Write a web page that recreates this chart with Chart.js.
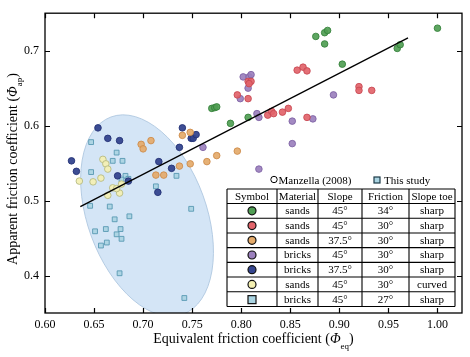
<!DOCTYPE html>
<html><head><meta charset="utf-8">
<script src="https://cdn.jsdelivr.net/npm/chart.js@4.4.0/dist/chart.umd.min.js"></script>
<style>html,body{margin:0;padding:0;background:#fff;}canvas{display:block;}</style>
</head><body>
<canvas id="c" width="470" height="357"></canvas>
<script>
const FONT = '"Liberation Serif", "Times New Roman", serif';

const xTickValues = [0.60, 0.65, 0.70, 0.75, 0.80, 0.85, 0.90, 0.95, 1.00];
const xTickLabels = ['0.60', '0.65', '0.70', '0.75', '0.80', '0.85', '0.90', '0.95', '1.00'];
const yTickValues = [0.4, 0.5, 0.6, 0.7];
const yTickLabels = ['0.4', '0.5', '0.6', '0.7'];

// sands, 45°, 34°, sharp
const greenX = [0.770,0.773,0.775,0.789,0.807,0.876,0.885,0.888,0.885,0.903,0.959,0.962,1.000];
const greenY = [0.623,0.624,0.625,0.603,0.611,0.719,0.724,0.727,0.709,0.682,0.703,0.708,0.730];
// sands, 45°, 30°, sharp
const redX = [0.796,0.807,0.810,0.808,0.807,0.857,0.863,0.867,0.827,0.831,0.833,0.842,0.848,0.867,0.920,0.920,0.933];
const redY = [0.641,0.659,0.659,0.656,0.636,0.674,0.678,0.673,0.614,0.619,0.616,0.618,0.623,0.611,0.652,0.647,0.647];
// sands, 37.5°, 30°, sharp
const orangeX = [0.698,0.700,0.708,0.713,0.721,0.737,0.748,0.765,0.775,0.796,0.740,0.748];
const orangeY = [0.575,0.569,0.580,0.534,0.534,0.546,0.549,0.552,0.560,0.566,0.587,0.591];
// bricks, 45°, 30°, sharp
const purpleX = [0.799,0.802,0.808,0.810,0.807,0.816,0.818,0.852,0.852,0.818,0.761,0.873,0.894];
const purpleY = [0.636,0.665,0.665,0.668,0.650,0.616,0.611,0.606,0.576,0.542,0.571,0.609,0.641];
// bricks, 37.5°, 30°, sharp
const blueX = [0.654,0.664,0.676,0.627,0.632,0.674,0.685,0.715,0.716,0.729,0.737,0.740,0.749,0.751,0.754];
const blueY = [0.597,0.583,0.580,0.553,0.539,0.533,0.526,0.511,0.552,0.543,0.571,0.597,0.583,0.583,0.588];
// sands, 45°, 30°, curved
const yellowX = [0.635,0.649,0.657,0.659,0.662,0.664,0.664,0.669,0.676,0.673,0.678];
const yellowY = [0.526,0.525,0.530,0.555,0.549,0.542,0.507,0.517,0.510,0.516,0.522];
// this study: bricks, 45°, 27°, sharp
const squareX = [0.647,0.673,0.669,0.679,0.647,0.682,0.685,0.678,0.713,0.646,0.666,0.686,0.671,0.651,0.662,0.677,0.673,0.678,0.663,0.657,0.676,0.734,0.749,0.742];
const squareY = [0.578,0.564,0.553,0.553,0.538,0.533,0.529,0.528,0.519,0.493,0.492,0.479,0.475,0.459,0.462,0.462,0.455,0.449,0.444,0.440,0.403,0.533,0.489,0.370];
// fitted line
const fitX = [0.636, 0.970];
const fitY = [0.492, 0.717];

// table texts
const tableHeader = ['Symbol', 'Material', 'Slope', 'Friction', 'Slope toe'];
const materials = ['sands', 'sands', 'sands', 'bricks', 'bricks', 'sands', 'bricks'];
const slopes = ['45°', '45°', '37.5°', '45°', '37.5°', '45°', '45°'];
const frictions = ['34°', '30°', '30°', '30°', '30°', '30°', '27°'];
const toes = ['sharp', 'sharp', 'sharp', 'sharp', 'sharp', 'curved', 'sharp'];

const ELLIPSE = { cx: 0.704, cy: 0.480, a: 0.107, b: 0.0606, angleDeg: 70 };

const styles = [
  { fill: 'rgba(80,158,84,0.92)', stroke: 'rgba(52,128,58,0.95)', shape: 'circle' },
  { fill: 'rgba(226,100,106,0.92)', stroke: 'rgba(200,72,82,0.95)', shape: 'circle' },
  { fill: 'rgba(228,170,106,0.92)', stroke: 'rgba(204,138,72,0.95)', shape: 'circle' },
  { fill: 'rgba(155,128,189,0.92)', stroke: 'rgba(124,96,163,0.95)', shape: 'circle' },
  { fill: 'rgba(52,68,142,0.95)', stroke: 'rgba(36,50,118,1)', shape: 'circle' },
  { fill: 'rgba(244,240,178,0.92)', stroke: 'rgba(182,186,130,1)', shape: 'circle' },
  { fill: 'rgba(170,212,226,0.92)', stroke: 'rgba(88,152,178,1)', shape: 'rect' }
];

function pts(xs, ys) { return xs.map((x, i) => ({ x: x, y: ys[i] })); }

const seriesX = [greenX, redX, orangeX, purpleX, blueX, yellowX, squareX];
const seriesY = [greenY, redY, orangeY, purpleY, blueY, yellowY, squareY];

const datasets = [{
  type: 'line', data: pts(fitX, fitY), borderColor: '#000', borderWidth: 1.3,
  pointRadius: 0, showLine: true, fill: false, tension: 0
}];
seriesX.forEach((xs, i) => {
  const s = styles[i];
  datasets.push({
    type: 'scatter', data: pts(xs, seriesY[i]),
    pointStyle: s.shape, pointRadius: s.shape === 'rect' ? 3.4 : 3.3,
    backgroundColor: s.fill, borderColor: s.stroke, pointBorderWidth: 0.9
  });
});

const ellipsePlugin = {
  id: 'ellipse',
  beforeDatasetsDraw(chart) {
    const { ctx, chartArea: ca, scales: { x, y } } = chart;
    const cx = x.getPixelForValue(ELLIPSE.cx), cy = y.getPixelForValue(ELLIPSE.cy);
    const k = x.getPixelForValue(1) - x.getPixelForValue(0);
    ctx.save();
    ctx.beginPath(); ctx.rect(ca.left, ca.top, ca.right - ca.left, ca.bottom - ca.top); ctx.clip();
    ctx.beginPath();
    ctx.ellipse(cx, cy, ELLIPSE.a * k, ELLIPSE.b * k, ELLIPSE.angleDeg * Math.PI / 180, 0, Math.PI * 2);
    ctx.fillStyle = 'rgba(205,225,244,0.85)';
    ctx.fill();
    ctx.strokeStyle = 'rgba(175,200,224,0.9)';
    ctx.lineWidth = 1;
    ctx.stroke();
    ctx.restore();
  }
};

function drawPieces(ctx, pieces, x, y) {
  pieces.forEach(p => {
    ctx.font = p.font;
    ctx.fillText(p.t, x, y + (p.dy || 0));
    x += ctx.measureText(p.t).width;
  });
}
function piecesWidth(ctx, pieces) {
  let w = 0;
  pieces.forEach(p => { ctx.font = p.font; w += ctx.measureText(p.t).width; });
  return w;
}

const framePlugin = {
  id: 'frame',
  afterDraw(chart) {
    const { ctx, chartArea: ca, scales: { x, y } } = chart;
    ctx.save();
    ctx.strokeStyle = '#000';
    ctx.lineWidth = 1.3;
    ctx.strokeRect(ca.left, ca.top, ca.right - ca.left, ca.bottom - ca.top);
    ctx.lineWidth = 1.2;
    const L = 5;
    ctx.beginPath();
    xTickValues.forEach(v => {
      const px = Math.round(x.getPixelForValue(v)) + 0.5;
      ctx.moveTo(px, ca.bottom); ctx.lineTo(px, ca.bottom - L);
      ctx.moveTo(px, ca.top); ctx.lineTo(px, ca.top + L);
    });
    yTickValues.forEach(v => {
      const py = Math.round(y.getPixelForValue(v)) + 0.5;
      ctx.moveTo(ca.left, py); ctx.lineTo(ca.left + L, py);
      ctx.moveTo(ca.right, py); ctx.lineTo(ca.right - L, py);
    });
    ctx.stroke();

    // axis titles
    ctx.fillStyle = '#000';
    ctx.textBaseline = 'alphabetic';
    ctx.textAlign = 'left';
    const xt = [
      { t: 'Equivalent friction coefficient (', font: '14px ' + FONT },
      { t: 'Φ', font: 'italic 14px ' + FONT },
      { t: 'eq', font: '9px ' + FONT, dy: 6 },
      { t: ')', font: '14px ' + FONT }
    ];
    const xw = piecesWidth(ctx, xt);
    drawPieces(ctx, xt, (ca.left + ca.right) / 2 - xw / 2, 343);

    const yt = [
      { t: 'Apparent friction coefficient (', font: '14px ' + FONT },
      { t: 'Φ', font: 'italic 14px ' + FONT },
      { t: 'ap', font: '9px ' + FONT, dy: 5 },
      { t: ')', font: '14px ' + FONT }
    ];
    const yw = piecesWidth(ctx, yt);
    ctx.save();
    ctx.translate(17, 169);
    ctx.rotate(-Math.PI / 2);
    drawPieces(ctx, yt, -yw / 2, 0);
    ctx.restore();

    // legend line
    ctx.font = '11px ' + FONT;
    ctx.lineWidth = 1;
    ctx.strokeStyle = '#000';
    ctx.beginPath(); ctx.arc(274, 179.5, 3.2, 0, Math.PI * 2); ctx.stroke();
    ctx.fillText('Manzella (2008)', 278.5, 183.5);
    ctx.fillStyle = 'rgba(170,212,226,1)';
    ctx.fillRect(374, 177, 6, 6);
    ctx.strokeStyle = '#1d3b48';
    ctx.lineWidth = 1.2;
    ctx.strokeRect(374, 177, 6, 6);
    ctx.fillStyle = '#000';
    ctx.fillText('This study', 384, 183.5);

    // table
    const cols = [227, 277, 318, 362, 409, 455];
    const top = 189, headBottom = 203.5, bottom = 306.5;
    const rowH = (bottom - headBottom) / materials.length;
    ctx.fillStyle = '#fff';
    ctx.fillRect(cols[0], top, cols[5] - cols[0], bottom - top);
    ctx.strokeStyle = '#000';
    ctx.lineWidth = 1.1;
    ctx.beginPath();
    cols.forEach(c => { ctx.moveTo(c, top); ctx.lineTo(c, bottom); });
    ctx.moveTo(cols[0], top); ctx.lineTo(cols[5], top);
    ctx.moveTo(cols[0], headBottom); ctx.lineTo(cols[5], headBottom);
    for (let i = 1; i <= materials.length; i++) {
      const yy = headBottom + i * rowH;
      ctx.moveTo(cols[0], yy); ctx.lineTo(cols[5], yy);
    }
    ctx.stroke();
    ctx.fillStyle = '#000';
    ctx.textAlign = 'center';
    ctx.textBaseline = 'middle';
    ctx.font = '11px ' + FONT;
    const mids = [];
    for (let j = 0; j < 5; j++) mids.push((cols[j] + cols[j + 1]) / 2);
    tableHeader.forEach((h, j) => ctx.fillText(h, mids[j], (top + headBottom) / 2 + 0.5));
    for (let i = 0; i < materials.length; i++) {
      const cy = headBottom + (i + 0.5) * rowH + 0.5;
      const s = styles[i];
      ctx.fillStyle = s.fill.replace(/0\.9\d?\)/, '1)');
      ctx.strokeStyle = '#111';
      ctx.lineWidth = 1.2;
      if (s.shape === 'rect') {
        ctx.fillRect(mids[0] - 4, cy - 4, 8, 8);
        ctx.strokeRect(mids[0] - 4, cy - 4, 8, 8);
      } else {
        ctx.beginPath(); ctx.arc(mids[0], cy - 0.5, 4, 0, Math.PI * 2); ctx.fill(); ctx.stroke();
      }
      ctx.fillStyle = '#000';
      ctx.fillText(materials[i], mids[1], cy);
      ctx.fillText(slopes[i], mids[2], cy);
      ctx.fillText(frictions[i], mids[3], cy);
      ctx.fillText(toes[i], mids[4], cy);
    }
    ctx.restore();
  }
};

new Chart(document.getElementById('c'), {
  type: 'scatter',
  data: { datasets: datasets },
  options: {
    responsive: false, animation: false, devicePixelRatio: 1,
    layout: { padding: { left: 0, right: 8, top: 3, bottom: 0 } },
    plugins: { legend: { display: false }, tooltip: { enabled: false } },
    scales: {
      x: {
        type: 'linear', min: 0.6, max: 1.025,
        grid: { display: false, drawTicks: false }, border: { display: false },
        afterBuildTicks: s => { s.ticks = xTickValues.map(v => ({ value: v })); },
        ticks: {
          autoSkip: false, maxRotation: 0, color: '#000', padding: 5,
          font: { family: FONT, size: 12 },
          callback: v => xTickLabels[xTickValues.findIndex(t => Math.abs(t - v) < 1e-9)]
        },
        afterFit: s => { s.height = 44; }
      },
      y: {
        type: 'linear', min: 0.35, max: 0.75,
        grid: { display: false, drawTicks: false }, border: { display: false },
        afterBuildTicks: s => { s.ticks = yTickValues.map(v => ({ value: v })); },
        ticks: {
          autoSkip: false, color: '#000', padding: 6,
          font: { family: FONT, size: 12 },
          callback: v => yTickLabels[yTickValues.findIndex(t => Math.abs(t - v) < 1e-9)]
        },
        afterFit: s => { s.width = 45; }
      }
    }
  },
  plugins: [ellipsePlugin, framePlugin]
});
</script>
</body></html>
